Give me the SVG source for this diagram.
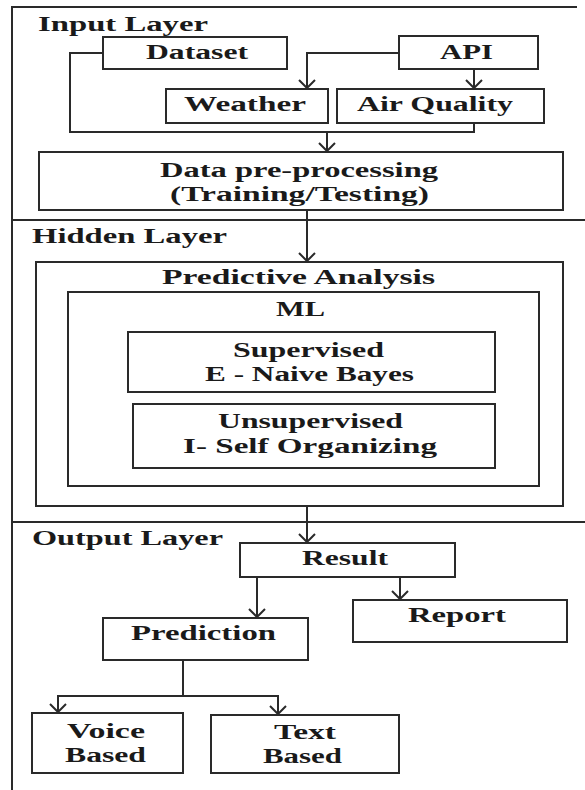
<svg xmlns="http://www.w3.org/2000/svg" width="585" height="790" viewBox="0 0 585 790">
  <style>
    .box { fill: #fff; stroke: #2a2a2a; stroke-width: 2; }
    .frame { fill: none; stroke: #2a2a2a; stroke-width: 2; }
    .wire { fill: none; stroke: #2a2a2a; stroke-width: 2; }
    text { font-family: "Liberation Serif", "Times New Roman", serif; font-weight: bold; font-size: 20px; fill: #1a1a1a; }
  </style>
  <defs>
    <!-- open V arrowhead, drawn along +x so orient="auto" points it down the line -->
    <marker id="vee" markerWidth="12" markerHeight="18" viewBox="0 0 12 18" refX="10" refY="9" orient="auto" markerUnits="userSpaceOnUse" overflow="visible">
      <polyline points="2,1 10,9 2,17" fill="none" stroke="#2a2a2a" stroke-width="2"/>
    </marker>
  </defs>
  <rect width="585" height="790" fill="#fff"/>

  <!-- outer frame and layer dividers -->
  <g id="frame">
    <polyline class="frame" points="577,7 12,7 12,790"/>
    <line class="frame" x1="12" y1="220" x2="585" y2="220"/>
    <line class="frame" x1="12" y1="522" x2="585" y2="522"/>
    <text x="38" y="31" textLength="170" lengthAdjust="spacingAndGlyphs">Input Layer</text>
    <text x="32" y="243" textLength="195" lengthAdjust="spacingAndGlyphs">Hidden Layer</text>
    <text x="32" y="545" textLength="191" lengthAdjust="spacingAndGlyphs">Output Layer</text>
  </g>

  <!-- connectors -->
  <g id="connectors">
    <polyline class="wire" points="103,53 70,53 70,132 474,132 474,123"/>
    <line class="wire" x1="327" y1="132" x2="327" y2="151" marker-end="url(#vee)"/>
    <polyline class="wire" points="399,53 307,53 307,88" marker-end="url(#vee)"/>
    <line class="wire" x1="474" y1="69" x2="474" y2="88" marker-end="url(#vee)"/>
    <line class="wire" x1="307" y1="210" x2="307" y2="261" marker-end="url(#vee)"/>
    <line class="wire" x1="307" y1="506" x2="307" y2="542" marker-end="url(#vee)"/>
    <line class="wire" x1="257" y1="577" x2="257" y2="617" marker-end="url(#vee)"/>
    <line class="wire" x1="400" y1="577" x2="400" y2="599" marker-end="url(#vee)"/>
    <line class="wire" x1="183" y1="660" x2="183" y2="696"/>
    <line class="wire" x1="57" y1="696" x2="279" y2="696"/>
    <line class="wire" x1="58" y1="696" x2="58" y2="712" marker-end="url(#vee)"/>
    <line class="wire" x1="278" y1="696" x2="278" y2="714" marker-end="url(#vee)"/>
  </g>

  <!-- input layer -->
  <g id="dataset">
    <rect class="box" x="103" y="37" width="184" height="32"/>
    <text x="146" y="59" textLength="102" lengthAdjust="spacingAndGlyphs">Dataset</text>
  </g>
  <g id="api">
    <rect class="box" x="399" y="36" width="139" height="33"/>
    <text x="440" y="59" textLength="53" lengthAdjust="spacingAndGlyphs">API</text>
  </g>
  <g id="weather">
    <rect class="box" x="166" y="89" width="162" height="34"/>
    <text x="184" y="111" textLength="122" lengthAdjust="spacingAndGlyphs">Weather</text>
  </g>
  <g id="air-quality">
    <rect class="box" x="337" y="89" width="207" height="34"/>
    <text x="357" y="111" textLength="156" lengthAdjust="spacingAndGlyphs">Air Quality</text>
  </g>
  <g id="preprocessing">
    <rect class="box" x="39" y="152" width="524" height="58"/>
    <text x="160" y="177" textLength="278" lengthAdjust="spacingAndGlyphs">Data pre-processing</text>
    <text x="170" y="201" textLength="259" lengthAdjust="spacingAndGlyphs">(Training/Testing)</text>
  </g>

  <!-- hidden layer -->
  <g id="predictive-analysis">
    <rect class="box" x="36" y="262" width="527" height="244"/>
    <text x="162" y="284" textLength="273" lengthAdjust="spacingAndGlyphs">Predictive Analysis</text>
  </g>
  <g id="ml">
    <rect class="box" x="68" y="292" width="471" height="194"/>
    <text x="276" y="316" textLength="49" lengthAdjust="spacingAndGlyphs">ML</text>
  </g>
  <g id="supervised">
    <rect class="box" x="128" y="332" width="367" height="60"/>
    <text x="233" y="357" textLength="151" lengthAdjust="spacingAndGlyphs">Supervised</text>
    <text x="205" y="381" textLength="209" lengthAdjust="spacingAndGlyphs">E - Naive Bayes</text>
  </g>
  <g id="unsupervised">
    <rect class="box" x="133" y="404" width="362" height="64"/>
    <text x="218" y="428" textLength="185" lengthAdjust="spacingAndGlyphs">Unsupervised</text>
    <text x="183" y="453" textLength="254" lengthAdjust="spacingAndGlyphs">I- Self Organizing</text>
  </g>

  <!-- output layer -->
  <g id="result">
    <rect class="box" x="240" y="543" width="215" height="34"/>
    <text x="302" y="565" textLength="86" lengthAdjust="spacingAndGlyphs">Result</text>
  </g>
  <g id="report">
    <rect class="box" x="353" y="600" width="214" height="42"/>
    <text x="408" y="622" textLength="98" lengthAdjust="spacingAndGlyphs">Report</text>
  </g>
  <g id="prediction">
    <rect class="box" x="103" y="618" width="205" height="42"/>
    <text x="131" y="640" textLength="145" lengthAdjust="spacingAndGlyphs">Prediction</text>
  </g>
  <g id="voice-based">
    <rect class="box" x="32" y="713" width="151" height="60"/>
    <text x="67" y="738" textLength="78" lengthAdjust="spacingAndGlyphs">Voice</text>
    <text x="65" y="762" textLength="81" lengthAdjust="spacingAndGlyphs">Based</text>
  </g>
  <g id="text-based">
    <rect class="box" x="211" y="715" width="188" height="58"/>
    <text x="274" y="739" textLength="62" lengthAdjust="spacingAndGlyphs">Text</text>
    <text x="263" y="763" textLength="79" lengthAdjust="spacingAndGlyphs">Based</text>
  </g>
</svg>
